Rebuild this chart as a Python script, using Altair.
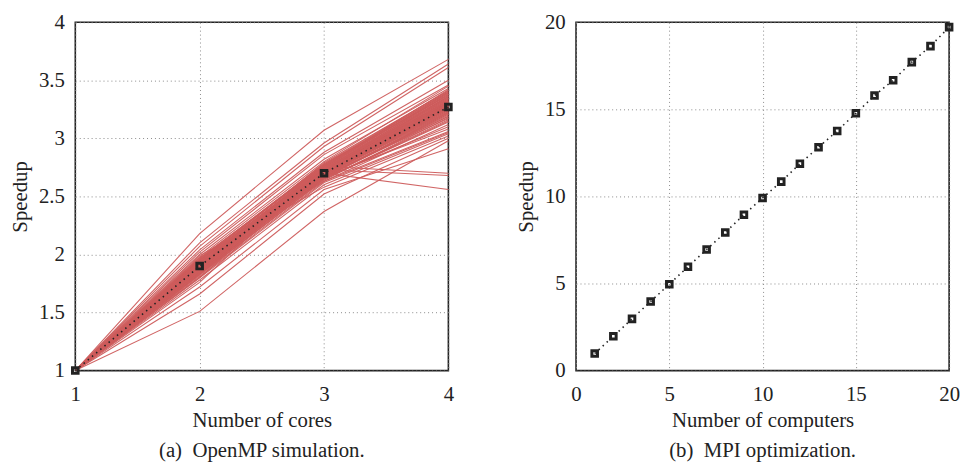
import altair as alt
import pandas as pd

# ---- data: OpenMP simulation runs (speedup at 2, 3, 4 cores; 1 core = 1) ----
cores = [1, 2, 3, 4]
run_s2 = [1.86, 1.88, 1.90, 1.92, 1.84, 1.87, 1.91, 1.89, 1.93, 1.85, 1.94, 1.83,
          1.95, 1.88, 1.90, 1.86, 1.92, 1.89, 1.87, 1.91, 1.96, 1.82, 1.90, 1.93,
          1.85, 1.88, 1.94, 1.84, 1.97, 1.81, 1.89, 1.92, 1.86, 1.90, 1.95, 1.83,
          1.87, 1.91, 1.88, 1.93, 1.98, 1.80,
          1.85, 1.87, 1.89, 1.91, 1.93, 1.95, 1.84, 1.86, 1.88, 1.90, 1.92, 1.94,
          1.96, 1.83, 1.89, 1.91, 1.87, 1.85, 1.93, 1.90, 1.88, 1.86, 1.92, 1.94,
          2.18, 2.10, 2.07, 2.04, 2.02, 2.00, 1.99, 1.76, 1.80, 1.84, 1.66, 1.51,
          1.72, 1.78, 1.97]
run_s3 = [2.70, 2.72, 2.71, 2.74, 2.66, 2.69, 2.73, 2.68, 2.76, 2.67, 2.75, 2.64,
          2.77, 2.70, 2.72, 2.68, 2.71, 2.74, 2.66, 2.69, 2.78, 2.65, 2.67, 2.73,
          2.71, 2.75, 2.70, 2.69, 2.76, 2.63, 2.72, 2.68, 2.74, 2.66, 2.72, 2.70,
          2.73, 2.65, 2.67, 2.79, 2.80, 2.62,
          2.68, 2.70, 2.72, 2.74, 2.76, 2.77, 2.66, 2.69, 2.71, 2.73, 2.75, 2.70,
          2.78, 2.65, 2.72, 2.68, 2.71, 2.67, 2.74, 2.69, 2.73, 2.70, 2.76, 2.72,
          3.07, 2.96, 2.93, 2.88, 2.86, 2.82, 2.58, 2.76, 2.73, 2.70, 2.52, 2.37,
          2.56, 2.60, 2.63]
run_s4 = [3.30, 3.32, 3.28, 3.35, 3.22, 3.26, 3.31, 3.24, 3.38, 3.20, 3.36, 3.18,
          3.40, 3.27, 3.29, 3.25, 3.33, 3.30, 3.21, 3.23, 3.37, 3.15, 3.19, 3.34,
          3.28, 3.39, 3.26, 3.31, 3.42, 3.12, 3.36, 3.17, 3.32, 3.10, 3.29, 3.24,
          3.38, 3.14, 3.08, 3.41, 3.45, 3.05,
          3.22, 3.27, 3.31, 3.34, 3.37, 3.40, 3.19, 3.25, 3.29, 3.33, 3.36, 3.28,
          3.41, 3.16, 3.30, 3.23, 3.32, 3.21, 3.35, 3.26, 3.34, 3.27, 3.39, 3.30,
          3.68, 3.64, 3.61, 3.50, 3.46, 3.43, 3.02, 2.70, 2.68, 2.56, 3.00, 2.98,
          2.91, 3.04, 3.06]
mean_openmp = [1.0, 1.90, 2.70, 3.27]

# ---- data: MPI optimization ----
computers = list(range(1, 21))
mpi_speedup = [0.98, 1.97, 2.97, 3.97, 4.96, 5.96, 6.95, 7.93, 8.95, 9.91,
               10.85, 11.88, 12.82, 13.76, 14.77, 15.79, 16.67, 17.71, 18.63, 19.72]

rows = []
for i in range(len(run_s2)):
    for c, v in zip(cores, [1.0, run_s2[i], run_s3[i], run_s4[i]]):
        rows.append({"run": i, "cores": c, "speedup": v})
runs_df = pd.DataFrame(rows)
mean_df = pd.DataFrame({"cores": cores, "speedup": mean_openmp})
mpi_df = pd.DataFrame({"computers": computers, "speedup": mpi_speedup})

FONT = "Liberation Serif"
RED = "#cd5c5c"
INK = "#222222"
FS = 21
H = 352

def axis(title, values, tpad=8, lpad=11):
    return alt.Axis(title=title, values=values, grid=True, gridDash=[1, 3], gridColor="#8a8a8a",
                    gridWidth=1, ticks=False, domain=False, labelFont=FONT, labelFontSize=FS,
                    labelColor="#222", titleFont=FONT, titleFontSize=FS, titleFontWeight="normal",
                    titleColor="#222", labelPadding=lpad, titlePadding=tpad,
                    labelExpr="'' + datum.value", labelFlush=False, labelOverlap=False)

xa = alt.X("cores:Q", scale=alt.Scale(domain=[1, 4], nice=False),
           axis=axis("Number of cores", [1, 2, 3, 4], tpad=6, lpad=13))
ya = alt.Y("speedup:Q", scale=alt.Scale(domain=[1, 4], nice=False),
           axis=axis("Speedup", [1, 1.5, 2, 2.5, 3, 3.5, 4]))

lines = alt.Chart(runs_df).mark_line(color=RED, strokeWidth=1.1, opacity=0.95).encode(
    x=xa, y=ya, detail="run:N")
mean_line = alt.Chart(mean_df).mark_line(color=INK, strokeWidth=1.6, strokeDash=[1.5, 4]).encode(
    x="cores:Q", y="speedup:Q")
mean_pts = alt.Chart(mean_df).mark_point(shape="square", filled=False, size=32,
                                          strokeWidth=3, color=INK, opacity=1).encode(
    x="cores:Q", y="speedup:Q")

left = alt.layer(lines, mean_line, mean_pts).properties(
    width=377, height=H,
    title=alt.TitleParams("(a)\u00a0\u00a0OpenMP simulation.", orient="bottom", font=FONT,
                          fontSize=FS, fontWeight="normal", color="#222", offset=9))

xb = alt.X("computers:Q", scale=alt.Scale(domain=[0, 20], nice=False),
           axis=axis("Number of computers", [0, 5, 10, 15, 20], tpad=6, lpad=13))
yb = alt.Y("speedup:Q", scale=alt.Scale(domain=[0, 20], nice=False),
           axis=axis("Speedup", [0, 5, 10, 15, 20]))

mpi_line = alt.Chart(mpi_df).mark_line(color=INK, strokeWidth=1.6, strokeDash=[1.5, 4]).encode(
    x=xb, y=yb)
mpi_pts = alt.Chart(mpi_df).mark_point(shape="square", filled=False, size=32,
                                        strokeWidth=3, color=INK, opacity=1).encode(
    x="computers:Q", y="speedup:Q")

right = alt.layer(mpi_line, mpi_pts).properties(
    width=377, height=H,
    title=alt.TitleParams("(b)\u00a0\u00a0MPI optimization.", orient="bottom", font=FONT,
                          fontSize=FS, fontWeight="normal", color="#222", offset=9))

chart = alt.hconcat(left, right, spacing=57).configure(
    padding=0, background="white").configure_view(stroke="#222", strokeWidth=1.6, fill="white")

chart.save("out.html", embed_options={"renderer": "svg", "actions": False})
